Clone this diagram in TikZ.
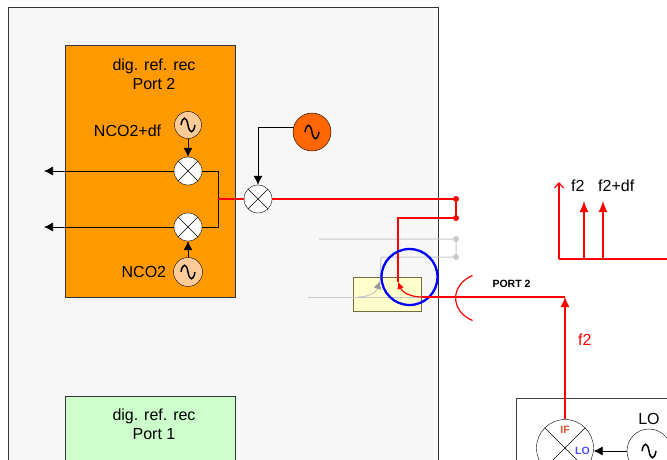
\documentclass[tikz,border=0pt]{standalone}
\usepackage{xcolor}
\usepackage{fontspec}
\setmainfont{Liberation Sans}
\usetikzlibrary{arrows.meta, positioning}

\definecolor{recorange}{HTML}{FF9900}
\definecolor{recgreen}{HTML}{CCFFCC}
\definecolor{oscpale}{HTML}{FFCC99}
\definecolor{oscdark}{HTML}{FF6600}
\definecolor{couplerfill}{HTML}{FFFFCC}
\definecolor{couplerline}{HTML}{6E6E3C}
\definecolor{offgray}{HTML}{C8C8C8}
\definecolor{iftext}{HTML}{D2562A}

\tikzset{
    mixer/.style={draw, circle, fill=white, inner sep=0pt, minimum size=#1,
        path picture={
            \draw (path picture bounding box.north west) -- (path picture bounding box.south east);
            \draw (path picture bounding box.north east) -- (path picture bounding box.south west);
        }},
    osc/.style={draw, circle, inner sep=0pt, minimum size=#1,
        path picture={
            \draw[shift={(path picture bounding box.center)}, scale=#1/24, line width=1.5pt]
                (-7,0) .. controls (-5.5,-9) and (-1.5,-9) .. (0,0)
                .. controls (1.5,9) and (5.5,9) .. (7,0);
        }},
    recbox/.style={draw=black!80, rectangle, minimum width=170pt, anchor=north west, outer sep=0pt},
    lbl/.style={font=\fontsize{16}{18}\selectfont, inner sep=0pt, align=center},
    smalllbl/.style={font=\bfseries\fontsize{10.5}{12}\selectfont, inner sep=0pt},
    dot/.style={circle, inner sep=0pt, minimum size=6pt},
    sig/.style={red, line width=1.2pt},
    off/.style={offgray, line width=1pt},
    ctrl/.style={-{Latex[length=9pt,width=9pt]}, black, line width=.7pt}
}

\begin{document}
\begin{tikzpicture}[x=1pt, y=-1pt]

\useasboundingbox (0,0) rectangle (667,459);
\clip (0,0) rectangle (667,459);

% Instrument frame
\node[draw=black!80, fill=black!3, rectangle, minimum width=430pt, minimum height=470pt, anchor=north west, outer sep=0pt] (frame) at (8.5,7) {};

% Receiver boxes
\node[recbox, fill=recorange, minimum height=252pt] (recport2) at (65.5,45) {};
\node[recbox, fill=recgreen, minimum height=100pt] (recport1) at (65.5,396) {};
\node[lbl] (rec2title) at (154,74) {dig. ref. rec\\[1pt]Port 2};
\node[lbl] (rec1title) at (154,424) {dig. ref. rec\\[1pt]Port 1};

% Port 2 mixers and NCOs
\node[mixer=28pt] (mixup) at (188,171) {};
\node[mixer=28pt] (mixdown) at (188,227) {};
\node[osc=27pt, fill=oscpale] (ncodf) at (188,125) {};
\node[osc=29pt, fill=oscpale] (nco) at (188,272) {};
\node[lbl, left=13pt of ncodf.west, yshift=-6pt] (ncodflabel) {NCO2+df};
\node[lbl, left=7pt of nco.west] (ncolabel) {NCO2};

\coordinate (outup) at (44,171);
\coordinate (outdown) at (44,227);
\coordinate (joinup) at (218,171);
\coordinate (joindown) at (218,227);
\coordinate (joinmid) at (218,199);

\draw[ctrl] (ncodf) -- (mixup);
\draw[ctrl] (nco) -- (mixdown);
\draw[ctrl] (mixup) -- (outup);
\draw[ctrl] (mixdown) -- (outdown);
\draw[black, line width=.7pt] (mixup) -- (joinup) -- (joindown) -- (mixdown);

% First conversion
\node[mixer=28pt] (mixfirst) at (258,199) {};
\node[osc=38pt, fill=oscdark] (oscfirst) at (312,132) {};
\coordinate (oscbend) at (258,127);
\coordinate (oscout) at (293.5,127);
\draw[ctrl] (oscout) -- (oscbend) -- (mixfirst);

% Inactive path
\node[dot, fill=offgray] (offa) at (456,239) {};
\node[dot, fill=offgray] (offb) at (456,257) {};
\coordinate (offstart) at (319,239);
\coordinate (offbend) at (381,257);
\coordinate (offtip) at (380,281);
\coordinate (offin) at (308,297);

% Coupler
\node[draw=couplerline, fill=couplerfill, rectangle, minimum width=68pt, minimum height=34pt, anchor=north west, outer sep=0pt] (coupler) at (353.5,277) {};
\coordinate (sigin) at (422,297);
\draw[off] (offin) -- (sigin);
\draw[off] (offstart) -- (offa) -- (offb) -- (offbend) -- (offtip);
\draw[off, -{Latex[length=8pt,width=8pt,color=black!40]}] (358,297) .. controls (368,297) and (376,293) .. (offtip);

% Active path
\node[dot, fill=red] (swa) at (456,199) {};
\node[dot, fill=red] (swb) at (456,218) {};
\coordinate (swbend) at (398,218);
\coordinate (swtip) at (398,282);
\draw[sig] (joinmid) -- (mixfirst);
\draw[sig] (mixfirst) -- (swa) -- (swb) -- (swbend) -- (swtip);
\draw[sig, -{Latex[length=7pt,width=7pt]}] (422,297) .. controls (410,297) and (402,292) .. (swtip);

% Highlight
\node[draw=blue, circle, line width=2.3pt, minimum size=56pt, inner sep=0pt] (highlight) at (409.5,277) {};

% Port 2 and test set
\draw[sig] (472.5,275.5) .. controls (450,285) and (450,311) .. (472.5,320.5);
\node[smalllbl] (portlabel) at (511.5,284) {PORT 2};

\node[draw=black!75, rectangle, minimum width=200pt, minimum height=100pt, anchor=north west, outer sep=0pt] (testbox) at (516.5,398) {};
\node[mixer=57pt] (mixif) at (565,448) {};
\node[smalllbl, text=iftext] (iflabel) at (565,430) {IF};
\node[smalllbl, text=blue!70] (lolabel) at (582.5,451) {LO};
\node[osc=44pt] (osclo) at (649,451) {};
\node[lbl, above=4pt of osclo] (oscllabel) {LO};
\draw[ctrl] (osclo) -- (mixif.east |- osclo);

\coordinate (portbend) at (565,297);
\draw[sig, -{Latex[length=10pt,width=9pt]}] (mixif) -- (portbend);
\draw[sig] (portbend) -- (sigin);
\node[lbl, text=red, right=13pt of portbend, yshift=-43pt] (f2label) {f2};

% Spectrum
\coordinate (axisorigin) at (559,259);
\coordinate (axistop) at (559,182);
\coordinate (axisend) at (667,259);
\coordinate (linef2) at (584,259);
\coordinate (linedf) at (603,259);
\draw[sig, -{Straight Barb[length=5pt,width=9pt]}] (axisorigin) -- (axistop);
\draw[sig] (axisorigin) -- (axisend);
\draw[sig, -{Latex[length=11pt,width=9pt]}] (linef2) -- (584,201);
\draw[sig, -{Latex[length=11pt,width=9pt]}] (linedf) -- (603,201);
\node[lbl, anchor=west] (specf2) at (571,186) {f2};
\node[lbl, anchor=west] (specdf) at (598,186) {f2+df};

\end{tikzpicture}
\end{document}
